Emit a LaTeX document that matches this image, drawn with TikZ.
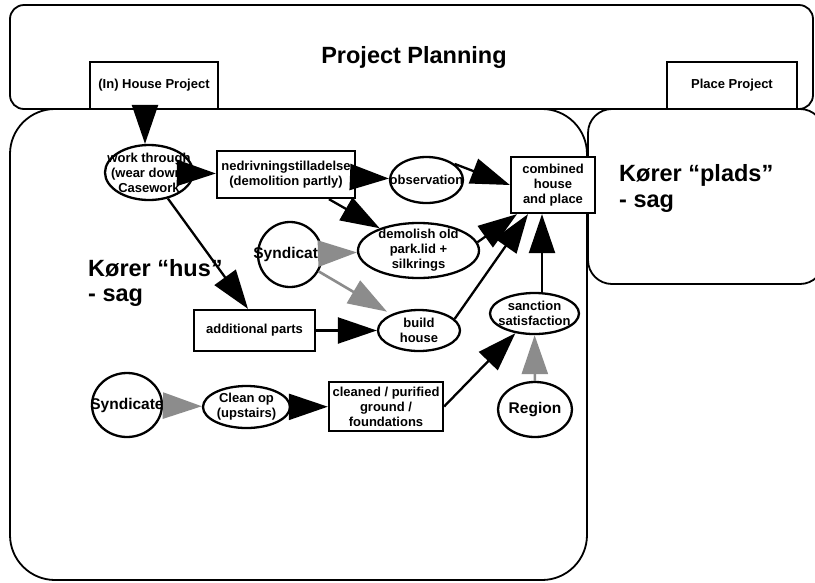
\documentclass[tikz,border=0pt]{standalone}
\usepackage{fontspec}
\setmainfont{Liberation Sans}
\usetikzlibrary{arrows.meta,shapes.geometric}

\definecolor{arrgray}{RGB}{140,140,140}

\begin{document}
\begin{tikzpicture}[x=1pt,y=-1pt,
  frame/.style={draw=black,line width=1.8pt,fill=white},
  rbox/.style={draw=black,line width=2.3pt,fill=white,rectangle,inner sep=0pt},
  ebox/.style={draw=black,line width=2.3pt,fill=white,ellipse,inner sep=0pt},
  lbl/.style={font=\bfseries\fontsize{13}{15}\selectfont,align=center,inner sep=0pt},
  lblbig/.style={font=\bfseries\fontsize{15.5}{17}\selectfont,align=center,inner sep=0pt},
  head/.style={font=\bfseries\fontsize{23.5}{25.5}\selectfont,align=left,inner sep=0pt},
  flow/.style={line width=2.3pt,draw=black,-{Triangle[length=39pt,width=26pt]}},
  feed/.style={line width=2.6pt,draw=arrgray,-{Triangle[length=39pt,width=26pt]}}
]
\useasboundingbox (0,0) rectangle (815,582);
\clip (0,0) rectangle (815,582);

% outer frames
\draw[frame,rounded corners=14pt] (10,5) rectangle (813,109);
\node[head,anchor=base] (pp) at (414,63) {Project Planning};
\node[rbox,minimum width=128pt,minimum height=47pt] (house) at (154,85.5) {};
\node[lbl] (house-t) at (house) {(In) House Project};
\node[rbox,minimum width=130pt,minimum height=47pt] (place) at (732,85.5) {};
\node[lbl] (place-t) at (place) {Place Project};

\draw[frame,rounded corners=45pt] (10,109) rectangle (587,580);
\draw[frame,rounded corners=24pt] (588,109) rectangle (824,284);

\node[head,anchor=west] (hus) at (88,283) {Kører “hus”\\- sag};
\node[head,anchor=west] (plads) at (619,188.5) {Kører “plads”\\- sag};

% process nodes
\node[ebox,minimum width=88pt,minimum height=55pt] (wt) at (149,172.5) {};
\node[rbox,minimum width=138pt,minimum height=47pt] (ned) at (286,174.5) {};
\node[ebox,minimum width=73pt,minimum height=46pt] (obs) at (426.5,180) {};
\node[rbox,minimum width=84pt,minimum height=56pt] (comb) at (553,185) {};
\node[ebox,minimum width=64pt,minimum height=65pt] (syn1) at (290,254.5) {};
\node[ebox,minimum width=121pt,minimum height=55pt] (dem) at (418.5,250.5) {};
\node[rbox,minimum width=121pt,minimum height=41pt] (add) at (254.5,330.5) {};
\node[ebox,minimum width=82pt,minimum height=41pt] (bh) at (419,330.5) {};
\node[ebox,minimum width=70pt,minimum height=64pt] (syn2) at (127,405) {};
\node[ebox,minimum width=87pt,minimum height=42pt] (clean) at (246.5,407) {};
\node[rbox,minimum width=114pt,minimum height=49pt] (cleaned) at (386,406.5) {};
\node[ebox,minimum width=89pt,minimum height=41pt] (sanc) at (534.5,313.5) {};
\node[ebox,minimum width=74pt,minimum height=55pt] (reg) at (535,409.5) {};

% labels
\node[lbl] (wt-t) at (wt) {work through\\(wear down)\\Casework};
\node[lbl] (ned-t) at (ned) {nedrivningstilladelse\\(demolition partly)};
\node[lbl] (obs-t) at (obs) {observation};
\node[lbl] (comb-t) at (comb) {combined\\house\\and place};
\node[lblbig] (syn1-t) at (syn1) {Syndicate};
\node[lbl] (dem-t) at (dem) {demolish old\\park.lid +\\silkrings};
\node[lbl] (add-t) at (add) {additional parts};
\node[lbl] (bh-t) at (bh) {build\\house};
\node[lblbig] (syn2-t) at (syn2) {Syndicate};
\node[lbl] (clean-t) at (clean) {Clean op\\(upstairs)};
\node[lbl] (cleaned-t) at (cleaned) {cleaned / purified\\ground /\\foundations};
\node[lbl] (sanc-t) at (sanc) {sanction\\satisfaction};
\node[lblbig] (reg-t) at (reg) {Region};

% connectors
\draw[flow] ([xshift=-9pt]house.south) -- ([xshift=-4pt]wt.north);
\draw[flow] (wt) -- (ned);
\draw[flow] (ned) -- (obs);
\draw[flow] (ned) -- (dem);
\draw[flow] (obs.30) -- (comb.west);
\draw[flow] (dem.8) -- ([xshift=-36pt]comb.south);
\draw[flow] (bh.18) -- ([xshift=-25pt]comb.south);
\draw[flow] ([xshift=7.5pt]sanc.north) -- ([xshift=-11pt]comb.south);
\draw[flow] (wt) -- ([xshift=-6.5pt]add.north);
\draw[flow] (add) -- (bh);
\draw[feed] (syn1) -- (dem);
\draw[feed,shorten >=5pt] (syn1) -- (bh);
\draw[feed] (syn2) -- (clean);
\draw[flow] (clean) -- (cleaned);
\draw[flow] (cleaned.east) -- (sanc);
\draw[feed] (reg) -- (sanc);
\end{tikzpicture}
\end{document}
